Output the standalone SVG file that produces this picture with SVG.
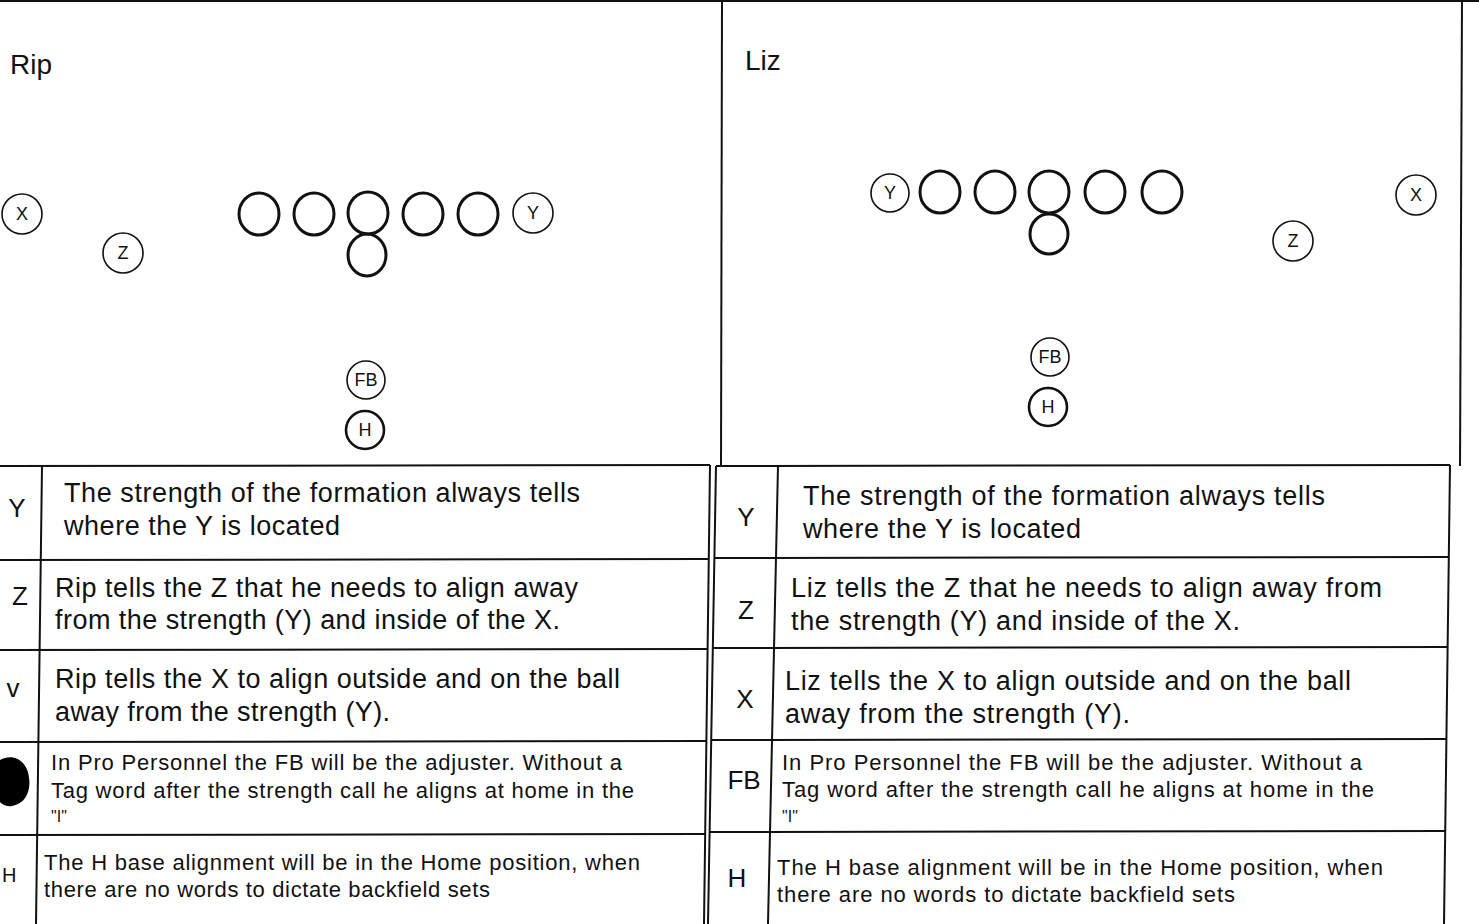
<svg xmlns="http://www.w3.org/2000/svg" width="1479" height="924" viewBox="0 0 1479 924">
<style>
text{font-family:"Liberation Sans",Arial,sans-serif;fill:#111}
.title{font-size:28px}
.lbl{font-size:18px;text-anchor:middle;dominant-baseline:central}
.p{fill:#fff;stroke:#111;stroke-width:1.6}
.ol{fill:none;stroke:#111;stroke-width:3}
.thick{fill:#fff;stroke:#111;stroke-width:2.6}
.ln{stroke:#111;stroke-width:2;fill:none}
.big{font-size:27px}
.sm{font-size:22px}
.tiny{font-size:16px}
.key{font-size:26px;text-anchor:middle;dominant-baseline:central}
</style>
<rect width="1479" height="924" fill="#fff"/>
<g id="frame">
<line class="ln" x1="0" y1="1" x2="1479" y2="1" stroke-width="3"/>
<line class="ln" x1="722" y1="0" x2="721" y2="466" stroke-width="1.5"/>
<line class="ln" x1="1462" y1="0" x2="1460" y2="466"/>
</g>
<text class="title" x="10" y="74">Rip</text>
<text class="title" x="745" y="70">Liz</text>

<g id="rip-X"><circle class="p" cx="22" cy="214" r="20"/><text class="lbl" x="22" y="214">X</text></g>
<g id="rip-Z"><circle class="p" cx="123" cy="253" r="20"/><text class="lbl" x="123" y="253">Z</text></g>
<g id="rip-LT"><ellipse class="ol" cx="259" cy="214" rx="20" ry="21"/></g>
<g id="rip-LG"><ellipse class="ol" cx="314" cy="214" rx="20" ry="21"/></g>
<g id="rip-C"><ellipse class="ol" cx="368" cy="213" rx="20" ry="21"/></g>
<g id="rip-RG"><ellipse class="ol" cx="423" cy="214" rx="20" ry="21"/></g>
<g id="rip-RT"><ellipse class="ol" cx="478" cy="214" rx="20" ry="21"/></g>
<g id="rip-QB"><ellipse class="ol" cx="367" cy="255" rx="19" ry="21"/></g>
<g id="rip-Y"><circle class="p" cx="533" cy="213" r="20"/><text class="lbl" x="533" y="213">Y</text></g>
<g id="rip-FB"><circle class="p" cx="366" cy="380" r="19"/><text class="lbl" x="366" y="380" font-size="17">FB</text></g>
<g id="rip-H"><circle class="thick" cx="365" cy="430" r="19"/><text class="lbl" x="365" y="430" font-size="16">H</text></g>

<g id="liz-Y"><circle class="p" cx="890" cy="193" r="19"/><text class="lbl" x="890" y="193">Y</text></g>
<g id="liz-LT"><ellipse class="ol" cx="940" cy="192" rx="20" ry="21"/></g>
<g id="liz-LG"><ellipse class="ol" cx="995" cy="192" rx="20" ry="21"/></g>
<g id="liz-C"><ellipse class="ol" cx="1049" cy="192" rx="20" ry="21"/></g>
<g id="liz-RG"><ellipse class="ol" cx="1105" cy="192" rx="20" ry="21"/></g>
<g id="liz-RT"><ellipse class="ol" cx="1162" cy="192" rx="20" ry="21"/></g>
<g id="liz-QB"><ellipse class="ol" cx="1049" cy="234" rx="19" ry="20"/></g>
<g id="liz-X"><circle class="p" cx="1416" cy="195" r="20"/><text class="lbl" x="1416" y="195">X</text></g>
<g id="liz-Z"><circle class="p" cx="1293" cy="241" r="20"/><text class="lbl" x="1293" y="241">Z</text></g>
<g id="liz-FB"><circle class="p" cx="1050" cy="357" r="19"/><text class="lbl" x="1050" y="357" font-size="17">FB</text></g>
<g id="liz-H"><circle class="thick" cx="1048" cy="407" r="19"/><text class="lbl" x="1048" y="407" font-size="16">H</text></g>

<g id="rip-table">
<line class="ln" x1="0" y1="466" x2="710" y2="465"/>
<line class="ln" x1="0" y1="560" x2="709" y2="559"/>
<line class="ln" x1="0" y1="650" x2="708" y2="649"/>
<line class="ln" x1="0" y1="742" x2="707" y2="741"/>
<line class="ln" x1="0" y1="835" x2="705" y2="834"/>
<line class="ln" x1="710" y1="465" x2="704" y2="924"/>
<line class="ln" x1="42" y1="466" x2="36" y2="924" stroke-width="1.5"/>
</g>
<g id="rip-row-Y">
<text class="key" x="17" y="508">Y</text>
<text class="big" x="64" y="502" textLength="516">The strength of the formation always tells</text>
<text class="big" x="64" y="535" textLength="276">where the Y is located</text>
</g>
<g id="rip-row-Z">
<text class="key" x="20" y="596">Z</text>
<text class="big" x="55" y="597" textLength="523">Rip tells the Z that he needs to align away</text>
<text class="big" x="55" y="629" textLength="505">from the strength (Y) and inside of the X.</text>
</g>
<g id="rip-row-X">
<text class="key" x="13" y="688" font-size="18">v</text>
<text class="big" x="55" y="688" textLength="565">Rip tells the X to align outside and on the ball</text>
<text class="big" x="55" y="721" textLength="335">away from the strength (Y).</text>
</g>
<g id="rip-row-FB">
<path d="M0 760 C14 752 28 762 29 778 C31 790 26 804 12 806 C6 807 2 804 0 802 Z" fill="#000"/>
<text class="sm" x="51" y="770" textLength="571">In Pro Personnel the FB will be the adjuster. Without a</text>
<text class="sm" x="51" y="798" textLength="583">Tag word after the strength call he aligns at home in the</text>
<text class="tiny" x="51" y="822">"I"</text>
</g>
<g id="rip-row-H">
<text x="2" y="882" font-size="20">H</text>
<text class="sm" x="44" y="870" textLength="596">The H base alignment will be in the Home position, when</text>
<text class="sm" x="44" y="897" textLength="446">there are no words to dictate backfield sets</text>
</g>

<g id="liz-table">
<line class="ln" x1="716" y1="466" x2="1450" y2="465"/>
<line class="ln" x1="715" y1="558" x2="1449" y2="557"/>
<line class="ln" x1="713" y1="648" x2="1448" y2="647"/>
<line class="ln" x1="711" y1="740" x2="1447" y2="739"/>
<line class="ln" x1="709" y1="832" x2="1445" y2="831"/>
<line class="ln" x1="716" y1="466" x2="708" y2="924"/>
<line class="ln" x1="1450" y1="465" x2="1444" y2="924"/>
<line class="ln" x1="778" y1="466" x2="768" y2="924" stroke-width="1.5"/>
</g>
<g id="liz-row-Y">
<text class="key" x="746" y="517">Y</text>
<text class="big" x="803" y="505" textLength="522">The strength of the formation always tells</text>
<text class="big" x="803" y="538" textLength="278">where the Y is located</text>
</g>
<g id="liz-row-Z">
<text class="key" x="746" y="610">Z</text>
<text class="big" x="791" y="597" textLength="591">Liz tells the Z that he needs to align away from</text>
<text class="big" x="791" y="630" textLength="449">the strength (Y) and inside of the X.</text>
</g>
<g id="liz-row-X">
<text class="key" x="745" y="699">X</text>
<text class="big" x="785" y="690" textLength="566">Liz tells the X to align outside and on the ball</text>
<text class="big" x="785" y="723" textLength="345">away from the strength (Y).</text>
</g>
<g id="liz-row-FB">
<text class="key" x="744" y="780">FB</text>
<text class="sm" x="782" y="770" textLength="580">In Pro Personnel the FB will be the adjuster. Without a</text>
<text class="sm" x="782" y="797" textLength="592">Tag word after the strength call he aligns at home in the</text>
<text class="tiny" x="782" y="822">"I"</text>
</g>
<g id="liz-row-H">
<text class="key" x="737" y="878">H</text>
<text class="sm" x="777" y="875" textLength="606">The H base alignment will be in the Home position, when</text>
<text class="sm" x="777" y="902" textLength="458">there are no words to dictate backfield sets</text>
</g>
</svg>
